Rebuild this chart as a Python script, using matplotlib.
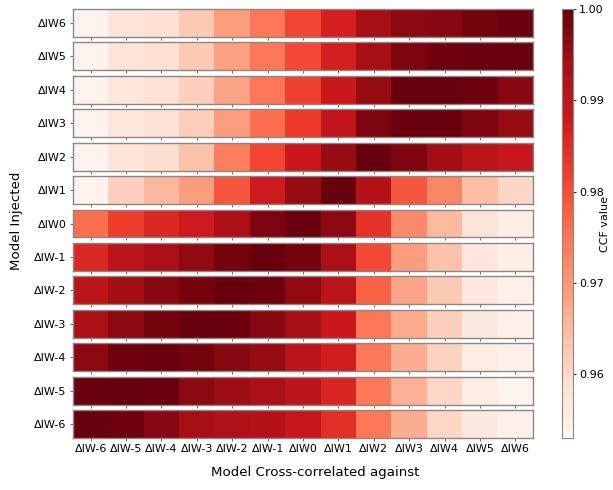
import numpy as np
import matplotlib
matplotlib.use("Agg")
import matplotlib.pyplot as plt
from matplotlib.colors import Normalize

# labels
col_labels = ["ΔIW-6", "ΔIW-5", "ΔIW-4", "ΔIW-3", "ΔIW-2", "ΔIW-1", "ΔIW0",
              "ΔIW1", "ΔIW2", "ΔIW3", "ΔIW4", "ΔIW5", "ΔIW6"]
row_labels = ["ΔIW6", "ΔIW5", "ΔIW4", "ΔIW3", "ΔIW2", "ΔIW1", "ΔIW0",
              "ΔIW-1", "ΔIW-2", "ΔIW-3", "ΔIW-4", "ΔIW-5", "ΔIW-6"]

# CCF values, one list per injected model (top to bottom)
ccf_iw6  = [0.9539, 0.9577, 0.9586, 0.9624, 0.9690, 0.9746, 0.9812, 0.9868, 0.9934, 0.9962, 0.9967, 0.9986, 0.9995]
ccf_iw5  = [0.9539, 0.9577, 0.9586, 0.9624, 0.9685, 0.9746, 0.9807, 0.9868, 0.9934, 0.9977, 0.9991, 0.9995, 0.9995]
ccf_iw4  = [0.9539, 0.9572, 0.9582, 0.9615, 0.9680, 0.9746, 0.9817, 0.9883, 0.9953, 1.0000, 1.0000, 0.9991, 0.9967]
ccf_iw3  = [0.9539, 0.9572, 0.9582, 0.9619, 0.9690, 0.9756, 0.9826, 0.9897, 0.9977, 0.9995, 1.0000, 0.9977, 0.9953]
ccf_iw2  = [0.9539, 0.9577, 0.9591, 0.9638, 0.9732, 0.9812, 0.9883, 0.9953, 1.0000, 0.9977, 0.9944, 0.9906, 0.9887]
ccf_iw1  = [0.9539, 0.9615, 0.9652, 0.9690, 0.9789, 0.9878, 0.9953, 1.0000, 0.9915, 0.9789, 0.9723, 0.9643, 0.9605]
ccf_iw0  = [0.9756, 0.9821, 0.9854, 0.9878, 0.9930, 0.9977, 1.0000, 0.9962, 0.9840, 0.9718, 0.9648, 0.9577, 0.9549]
ccf_iwm1 = [0.9854, 0.9906, 0.9930, 0.9958, 0.9986, 1.0000, 0.9986, 0.9930, 0.9807, 0.9690, 0.9633, 0.9572, 0.9549]
ccf_iwm2 = [0.9906, 0.9944, 0.9967, 0.9986, 1.0000, 0.9991, 0.9958, 0.9906, 0.9774, 0.9680, 0.9624, 0.9568, 0.9544]
ccf_iwm3 = [0.9930, 0.9962, 0.9986, 1.0000, 0.9995, 0.9967, 0.9934, 0.9883, 0.9746, 0.9671, 0.9615, 0.9563, 0.9544]
ccf_iwm4 = [0.9962, 0.9991, 0.9995, 0.9986, 0.9967, 0.9953, 0.9906, 0.9873, 0.9742, 0.9666, 0.9610, 0.9558, 0.9544]
ccf_iwm5 = [0.9995, 1.0000, 0.9995, 0.9962, 0.9948, 0.9930, 0.9906, 0.9859, 0.9742, 0.9662, 0.9605, 0.9558, 0.9532]
ccf_iwm6 = [1.0000, 0.9991, 0.9967, 0.9934, 0.9925, 0.9915, 0.9892, 0.9845, 0.9742, 0.9666, 0.9605, 0.9563, 0.9544]

rows = [ccf_iw6, ccf_iw5, ccf_iw4, ccf_iw3, ccf_iw2, ccf_iw1, ccf_iw0,
        ccf_iwm1, ccf_iwm2, ccf_iwm3, ccf_iwm4, ccf_iwm5, ccf_iwm6]

norm = Normalize(vmin=0.953, vmax=1.0)
cmap = plt.get_cmap("Reds")

fig = plt.figure(figsize=(6.13, 4.90), dpi=100)
W, H = 613.0, 490.0
left, right = 73, 533
top, bottom = 9, 438
n = len(rows)
gap = 5.5
step = (bottom - top + gap) / n   # row pitch in px
rh = step - gap                   # row height in px

for i, vals in enumerate(rows):
    y0 = top + i * step
    ax = fig.add_axes([left / W, 1 - (y0 + rh) / H, (right - left) / W, rh / H])
    ax.imshow(np.array([vals]), cmap=cmap, norm=norm, aspect="auto",
              extent=[-0.5, n - 0.5, -0.5, 0.5])
    ax.set_yticks([0])
    ax.set_yticklabels([row_labels[i]], fontsize=8)
    ax.set_xticks(range(len(col_labels)))
    if i == n - 1:
        ax.set_xticklabels(col_labels, fontsize=8)
    else:
        ax.set_xticklabels([])
    ax.tick_params(length=2.5, width=0.6, color="#555555", pad=2)
    for sp in ax.spines.values():
        sp.set_edgecolor("#888888")
        sp.set_linewidth(1.0)

cax = fig.add_axes([562 / W, 1 - 438 / H, 11 / W, (438 - 9) / H])
cb = fig.colorbar(plt.cm.ScalarMappable(norm=norm, cmap=cmap), cax=cax)
cb.set_ticks([0.96, 0.97, 0.98, 0.99, 1.00])
cb.ax.tick_params(labelsize=8, length=2.5, width=0.6, pad=2)
cb.outline.set_edgecolor("#888888")

fig.text(605 / W, 1 - 224 / H, "CCF value", rotation=90, ha="center", va="center", fontsize=8)
fig.text(17 / W, 1 - 221 / H, "Model Injected", rotation=90, ha="center", va="center", fontsize=9.6)
fig.text(315 / W, 1 - 472 / H, "Model Cross-correlated against", ha="center", va="center", fontsize=9.6)

fig.savefig("out.png", dpi=100)
